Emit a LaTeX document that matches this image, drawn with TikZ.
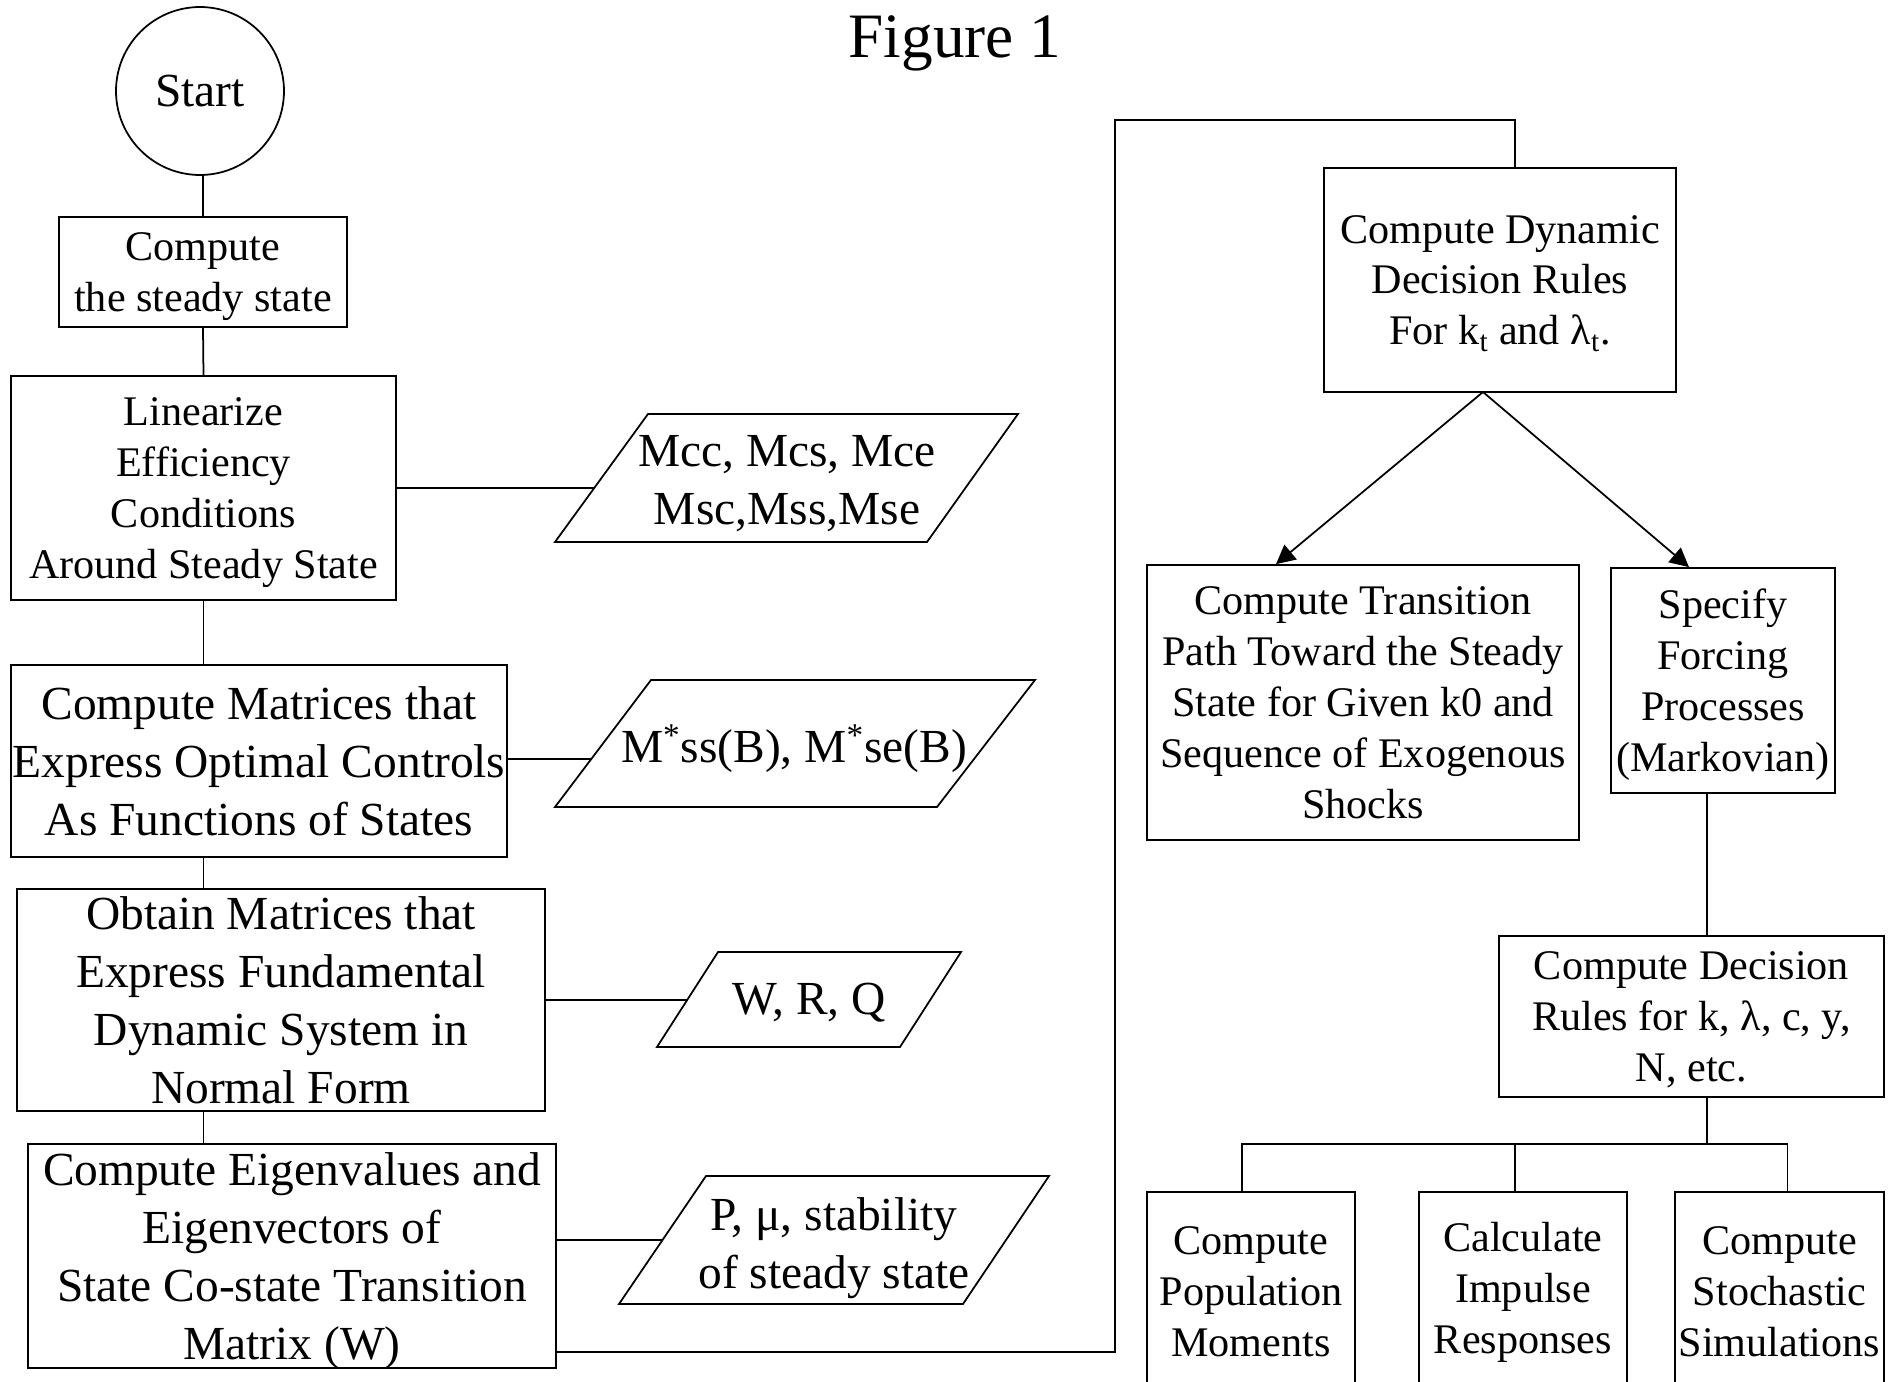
\documentclass[tikz,border=0pt]{standalone}
\usepackage{fontspec}
\setmainfont{Liberation Serif}
\usepackage{tikz}
\usetikzlibrary{positioning, arrows.meta}
\usetikzlibrary{calc}
\newcommand{\flowsmall}{\fontsize{24}{29}\selectfont}
\newcommand{\flowbig}{\fontsize{27}{33}\selectfont}

\begin{document}
\begin{tikzpicture}[x=0.02cm, y=-0.02cm, line width=1pt,
  box/.style={draw, rectangle, inner sep=0pt, align=center},
  low/.style={text depth=#1},
  arr/.style={-{Triangle[length=0.38cm,width=0.38cm]}}]
\useasboundingbox (0,0) rectangle (1898,1382);

% Left column: from the steady state to the transition matrix
\node (title) at (955,58) [anchor=base, font=\fontsize{36}{43}\selectfont] {Figure 1};
\node (start) at (200,91) [draw, circle, minimum size=3.36cm, inner sep=0pt, font=\flowbig] {Start};
\node (steady) at (203,272) [box, low=-3pt, minimum width=5.76cm, minimum height=2.2cm, font=\flowsmall] {Compute\\ the steady state};
\node (lin) at (203.5,488) [box, low=-3pt, minimum width=7.7cm, minimum height=4.48cm, font=\flowsmall] {Linearize\\ Efficiency\\ Conditions\\ Around Steady State};
\node (mat) at (259,761) [box, minimum width=9.92cm, minimum height=3.84cm, font=\flowbig] {Compute Matrices that\\ Express Optimal Controls\\ As Functions of States};
\node (obt) at (281,1000) [box, minimum width=10.56cm, minimum height=4.44cm, font=\flowbig] {Obtain Matrices that\\ Express Fundamental\\ Dynamic System in\\ Normal Form};
\node (eig) at (292,1256) [box, low=-3pt, minimum width=10.56cm, minimum height=4.48cm, font=\flowbig] {Compute Eigenvalues and\\ Eigenvectors of\\ State Co-state Transition\\ Matrix (W)};

\draw (steady.north |- start.south) -- (steady.north);
\draw (steady.south) -- (lin.north);
\draw (lin.south) -- (lin.south |- mat.north);
\draw (lin.south |- mat.south) -- (lin.south |- obt.north);
\draw (lin.south |- obt.south) -- (lin.south |- eig.north);

% Data produced at each step
\draw (648,414) -- (1018,414) -- (927,542) -- (555,542) -- cycle;
\node (mcc) at (787,484) [align=center, font=\flowbig] {Mcc, Mcs, Mce\\ Msc,Mss,Mse};
\coordinate (mccin) at (594,488);
\draw (lin.east) -- (mccin);

\draw (651,680) -- (1035,680) -- (937,807) -- (555,807) -- cycle;
\node (mss) at (794,749) [font=\flowbig] {M\textsuperscript{*}ss(B), M\textsuperscript{*}se(B)};
\coordinate (mssin) at (592,759);
\draw (mssin -| mat.east) -- (mssin);

\draw (718,952) -- (961,952) -- (900,1047) -- (657,1047) -- cycle;
\node (wrq) at (809,1003) [font=\flowbig] {W, R, Q};
\coordinate (wrqin) at (687,1000);
\draw (obt.east) -- (wrqin);

\draw (706,1176) -- (1049,1176) -- (963,1304) -- (619,1304) -- cycle;
\node (pmu) at (834,1248) [align=center, font=\flowbig] {P, μ, stability\\ of steady state};
\coordinate (pmuin) at (662,1240);
\draw (pmuin -| eig.east) -- (pmuin);

% Right column
\node (dyn) at (1500,280) [box, low=-3pt, minimum width=7.04cm, minimum height=4.48cm, font=\flowsmall] {Compute Dynamic\\ Decision Rules\\ For k\textsubscript{t} and λ\textsubscript{t}.};
\node (trans) at (1363,702.5) [box, minimum width=8.64cm, minimum height=5.5cm, font=\flowsmall] {Compute Transition\\ Path Toward the Steady\\ State for Given k0 and\\ Sequence of Exogenous\\ Shocks};
\node (spec) at (1723,680.5) [box, low=-2pt, minimum width=4.48cm, minimum height=4.5cm, font=\flowsmall] {Specify\\ Forcing\\ Processes\\ (Markovian)};
\node (dec) at (1691.5,1016.5) [box, low=-3pt, minimum width=7.7cm, minimum height=3.22cm, font=\flowsmall] {Compute Decision\\ Rules for k, λ, c, y,\\ N, etc.};
\node (pop) at (1251,1292) [box, minimum width=4.16cm, minimum height=4cm, font=\flowsmall] {Compute\\ Population\\ Moments};
\node (imp) at (1523,1292) [box, minimum width=4.16cm, minimum height=4cm, font=\flowsmall] {Calculate\\ Impulse\\ Responses};
\node (sto) at (1779.5,1292) [box, minimum width=4.18cm, minimum height=4cm, font=\flowsmall] {Compute\\ Stochastic\\ Simulations};

\coordinate (jump) at (1115,1352);
\coordinate (topbend) at (1515,120);
\draw (jump -| eig.east) -- (jump) |- (topbend) -- (topbend |- dyn.north);

\coordinate (fork) at (1483,392);
\draw[arr] (fork) -- ($(trans.north)+(-87,0)$);
\draw[arr] (fork) -- ($(spec.north)+(-34,0)$);

\coordinate (specout) at (1707,793);
\draw (specout) -- (specout |- dec.north);

\coordinate (bus) at (1707,1144);
\draw (bus |- dec.south) -- (bus);
\draw ($(pop.north)+(-9,0)$) |- (bus) -| ($(sto.north)+(8,0)$);
\draw ($(imp.north)+(-8,0)$) -- ($(imp.north)+(-8,-48)$);
\end{tikzpicture}
\end{document}
